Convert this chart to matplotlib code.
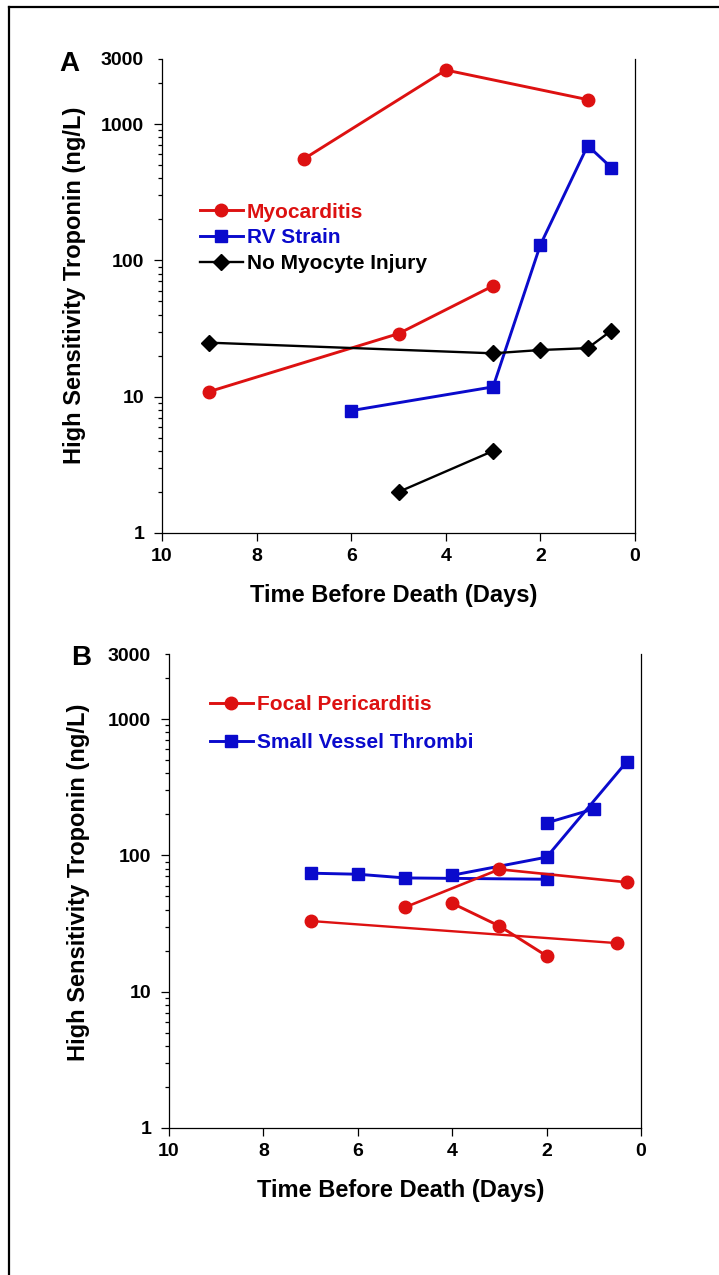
import matplotlib
matplotlib.use('Agg')
import matplotlib.pyplot as plt
from matplotlib.ticker import FixedLocator, NullFormatter, FixedFormatter
from matplotlib.lines import Line2D

plt.rcParams['font.family'] = ['Liberation Sans', 'DejaVu Sans']
plt.rcParams['font.weight'] = 'bold'

RED = '#DD1111'
BLUE = '#0A0ACC'
BLACK = '#000000'

# panel A: time before death (days) and troponin (ng/L)
myo_1_x = [7, 4, 1]
myo_1_y = [555, 2490, 1510]
myo_2_x = [9, 5, 3]
myo_2_y = [10.9, 29, 65]
rv_x = [6, 3, 2, 1, 0.5]
rv_y = [7.9, 11.8, 130, 695, 479]
nmi_1_x = [9, 3, 2, 1, 0.5]
nmi_1_y = [24.9, 20.8, 22.0, 22.7, 30.5]
nmi_2_x = [5, 3]
nmi_2_y = [2.0, 4.0]

# panel B
fp_1_x = [7, 0.5]
fp_1_y = [33.0, 22.7]
fp_2_x = [5, 3, 0.3]
fp_2_y = [41.6, 79, 63.5]
fp_3_x = [4, 3, 2]
fp_3_y = [44.5, 30.3, 18.3]
svt_1_x = [7, 6, 5, 2]
svt_1_y = [74, 72.7, 68.3, 66.8]
svt_2_x = [4, 2, 0.3]
svt_2_y = [71.5, 97, 487]
svt_3_x = [2, 1]
svt_3_y = [173, 219]

x_ticks = [0, 2, 4, 6, 8, 10]
y_major = [1, 10, 100, 1000]
y_minor = [m * 10 ** e for e in range(0, 3) for m in range(2, 10)] + [2000, 3000]

ylabel = 'High Sensitivity Troponin (ng/L)'
xlabel = 'Time Before Death (Days)'

fig = plt.figure(figsize=(7.19, 12.75), dpi=100)
W, H = 719, 1275


def make_axes(left, top, right, bottom):
    return fig.add_axes([left / W, 1 - bottom / H, (right - left) / W, (bottom - top) / H])


def style(ax, xlab_pos, ylab_pos):
    ax.set_yscale('log')
    ax.set_ylim(1, 3000)
    ax.set_xlim(10, 0)
    ax.spines['top'].set_visible(False)
    for s in ['left', 'bottom', 'right']:
        ax.spines[s].set_linewidth(0.9)
    ax.xaxis.set_major_locator(FixedLocator(x_ticks))
    ax.yaxis.set_major_locator(FixedLocator(y_major))
    ax.yaxis.set_major_formatter(FixedFormatter([str(v) for v in y_major]))
    ax.yaxis.set_minor_locator(FixedLocator(y_minor))
    ax.yaxis.set_minor_formatter(FixedFormatter(['' if v != 3000 else '3000' for v in y_minor]))
    ax.xaxis.set_minor_formatter(NullFormatter())
    ax.tick_params(axis='x', which='major', direction='out', length=5.8, width=0.9,
                   labelsize=14, pad=5)
    ax.tick_params(axis='y', which='major', direction='out', length=5.8, width=0.9,
                   labelsize=14, pad=7)
    ax.tick_params(axis='y', which='minor', direction='out', length=2.9, width=0.9,
                   labelsize=14, pad=10.1)
    ax.set_xlabel(xlabel, fontsize=17, fontweight='bold', va='center')
    ax.xaxis.set_label_coords(*xlab_pos)
    ax.set_ylabel(ylabel, fontsize=17, fontweight='bold', va='center')
    ax.yaxis.set_label_coords(*ylab_pos)


# ---- panel A
axA = make_axes(162, 59, 635, 533)
axA.plot(myo_1_x, myo_1_y, color=RED, lw=2.1, marker='o', ms=9, zorder=3)
axA.plot(myo_2_x, myo_2_y, color=RED, lw=2.1, marker='o', ms=9, zorder=3)
axA.plot(rv_x, rv_y, color=BLUE, lw=2.1, marker='s', ms=8.5, zorder=3)
axA.plot(nmi_1_x, nmi_1_y, color=BLACK, lw=1.7, marker='D', ms=8, zorder=4)
axA.plot(nmi_2_x, nmi_2_y, color=BLACK, lw=1.7, marker='D', ms=8, zorder=4)
style(axA, (0.49, -0.131), (-0.186, 0.523))

handlesA = [Line2D([], [], color=RED, lw=2.1, marker='o', ms=9),
            Line2D([], [], color=BLUE, lw=2.1, marker='s', ms=8.5),
            Line2D([], [], color=BLACK, lw=1.7, marker='D', ms=8)]
legA = axA.legend(handlesA, ['Myocarditis', 'RV Strain', 'No Myocyte Injury'],
                  loc='upper left', bbox_to_anchor=(0.080, 0.697), frameon=False,
                  fontsize=15, handlelength=2.05, handletextpad=0.2,
                  labelspacing=0.32, borderpad=0, borderaxespad=0)
for t, c in zip(legA.get_texts(), [RED, BLUE, BLACK]):
    t.set_color(c)
    t.set_fontweight('bold')

axA.text(-0.195, 0.989, 'A', transform=axA.transAxes, fontsize=20, fontweight='bold',
         ha='center', va='center')

# ---- panel B
axB = make_axes(169, 654, 641, 1128)
axB.plot(svt_1_x, svt_1_y, color=BLUE, lw=2.1, marker='s', ms=8.5, zorder=3)
axB.plot(svt_2_x, svt_2_y, color=BLUE, lw=2.1, marker='s', ms=8.5, zorder=3)
axB.plot(svt_3_x, svt_3_y, color=BLUE, lw=2.1, marker='s', ms=8.5, zorder=3)
axB.plot(fp_1_x, fp_1_y, color=RED, lw=1.7, marker='o', ms=9, zorder=4)
axB.plot(fp_2_x, fp_2_y, color=RED, lw=1.9, marker='o', ms=9, zorder=4)
axB.plot(fp_3_x, fp_3_y, color=RED, lw=2.1, marker='o', ms=9, zorder=4)
style(axB, (0.49, -0.132), (-0.191, 0.519))

handlesB = [Line2D([], [], color=RED, lw=2.1, marker='o', ms=9),
            Line2D([], [], color=BLUE, lw=2.1, marker='s', ms=8.5)]
legB = axB.legend(handlesB, ['Focal Pericarditis', 'Small Vessel Thrombi'],
                  loc='upper left', bbox_to_anchor=(0.087, 0.913), frameon=False,
                  fontsize=15, handlelength=2.05, handletextpad=0.2,
                  labelspacing=0.9, borderpad=0, borderaxespad=0)
for t, c in zip(legB.get_texts(), [RED, BLUE]):
    t.set_color(c)
    t.set_fontweight('bold')

axB.text(-0.186, 0.991, 'B', transform=axB.transAxes, fontsize=20, fontweight='bold',
         ha='center', va='center')

# figure border (top and left edges visible)
fig.add_artist(Line2D([9 / W, 1.0], [1 - 7 / H, 1 - 7 / H], color='black', lw=1.6,
                      transform=fig.transFigure))
fig.add_artist(Line2D([9 / W, 9 / W], [0.0, 1 - 7 / H], color='black', lw=1.6,
                      transform=fig.transFigure))

fig.savefig('out.png', dpi=100, facecolor='white')
